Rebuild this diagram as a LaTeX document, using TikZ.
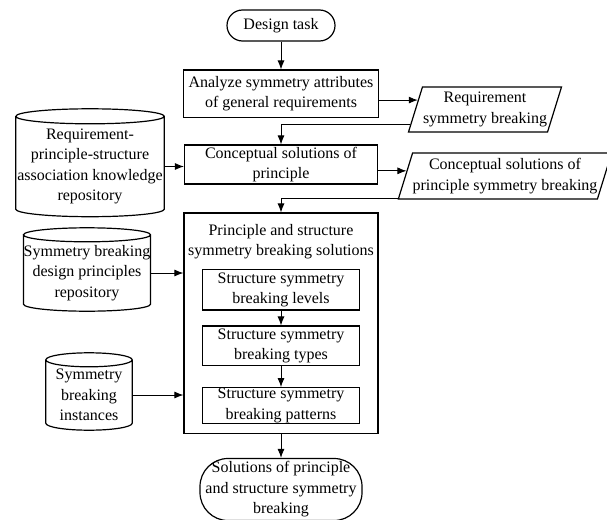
\documentclass[tikz,border=0pt]{standalone}
\usepackage{fontspec}
\setmainfont{Liberation Serif}
\usetikzlibrary{shapes.geometric,arrows.meta,calc}

% outline of a stored-data node: #1 node name, #2 cap height
\newcommand{\dbshape}[2]{%
  \draw[line width=1.2pt] let \p1=(#1.north west), \p2=(#1.south east), \n1={(\x2-\x1)/2} in
    ([yshift=#2pt]#1.north west) -- (#1.south west)
    arc[start angle=180,end angle=360,x radius=\n1,y radius=#2pt] -- ([yshift=#2pt]#1.north east)
    arc[start angle=0,end angle=180,x radius=\n1,y radius=#2pt]
    arc[start angle=180,end angle=360,x radius=\n1,y radius=#2pt];}

\begin{document}
\begin{tikzpicture}[x=1pt,y=1pt,>={Latex[length=9pt,width=7pt]},
  every node/.style={font=\fontsize{16}{20.5}\selectfont,align=center},
  proc/.style={draw,line width=1.2pt,inner sep=1pt},
  term/.style={draw,line width=1.2pt,inner sep=1pt},
  dataio/.style={draw,line width=1.2pt,trapezium,trapezium left angle=68,trapezium right angle=112,trapezium stretches body,inner sep=0pt},
  store/.style={inner sep=0pt},
  link/.style={->,line width=0.9pt}]
\useasboundingbox (0,0) rectangle (607,-519);
% main column
\node[term,rounded corners=15.5pt,minimum width=108,minimum height=31] (task) at (281,-25.5) {Design task};
\node[proc,minimum width=194.7,minimum height=47.3] (analyze) at (281,-93.7) {Analyze symmetry attributes\\of general requirements};
\node[proc,minimum width=193,minimum height=39] (concept) at (281,-164.5) {Conceptual solutions of\\principle};
\node[proc,minimum width=194,minimum height=220.3] (sol) at (281,-323.2) {};
\node (soltitle) at (281,-241.5) {Principle and structure\\symmetry breaking solutions};
\node[proc,inner sep=0pt,minimum width=157,minimum height=40.7] (lev) at (281,-289.7) {Structure symmetry\\breaking levels};
\node[proc,inner sep=0pt,minimum width=157,minimum height=39.3] (typ) at (281,-345.7) {Structure symmetry\\breaking types};
\node[proc,inner sep=0pt,minimum width=157,minimum height=35.6] (pat) at (281,-405.5) {Structure symmetry\\breaking patterns};
\node[term,rounded corners=28pt,inner sep=0pt,minimum width=162,minimum height=62] (fin) at (281,-489.5) {Solutions of principle\\and structure symmetry\\breaking};
% outputs
\node[dataio,minimum width=153,minimum height=45] (req) at (485,-109.5) {Requirement\\symmetry breaking};
\node[dataio,minimum width=204,minimum height=46] (cps) at (505,-176) {Conceptual solutions of\\principle symmetry breaking};
% repositories
\node[store,minimum width=148,minimum height=85] (kb) at (90,-166.5) {Requirement-\\principle-structure\\association knowledge\\repository};
\node[store,minimum width=124,minimum height=62] (dp) at (87,-273) {Symmetry breaking\\design principles\\repository};
\node[store,minimum width=86,minimum height=56] (inst) at (89,-395) {Symmetry\\breaking\\instances};
\dbshape{kb}{7.5}
\dbshape{dp}{7}
\dbshape{inst}{7}
% connectors
\draw[link] (task) -- (analyze);
\draw[link] (analyze.east |- req.172) -- (req.172);
\draw[link] (req.191) -| (concept.north);
\draw[link] (concept.east |- cps.177) -- (cps.177);
\draw[link] (cps.192) -| (sol.north);
\draw[link] (lev) -- (typ);
\draw[link] (typ) -- (pat);
\draw[link] (sol) -- (fin);
\draw[link] (kb.east) -- (kb.east -| concept.west);
\draw[link] (dp.east) -- (dp.east -| sol.west);
\draw[link] (inst.east) -- (inst.east -| sol.west);
\end{tikzpicture}
\end{document}
